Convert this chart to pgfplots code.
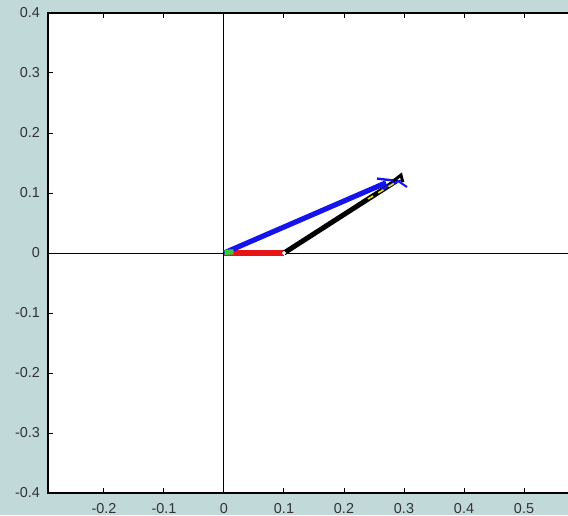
\documentclass[border=0pt]{standalone}
\usepackage{fontspec}
\setmainfont{Liberation Sans}
\usepackage{pgfplots}
\pgfplotsset{compat=1.18}
\usetikzlibrary{arrows.meta}
\definecolor{bgc}{RGB}{193,217,217}
\definecolor{vblue}{RGB}{20,20,235}
\definecolor{vred}{RGB}{230,20,20}
\definecolor{vgreen}{RGB}{60,200,60}
\begin{document}
\begin{tikzpicture}
\fill[bgc] (-112pt,-131pt) rectangle (172pt,126.5pt);
\begin{axis}[
  anchor=origin, at={(0,0)},
  x=300pt, y=300pt,
  xmin=-0.2933, xmax=0.6, ymin=-0.4, ymax=0.4,
  axis background/.style={fill=white},
  xtick={-0.2,-0.1,0,0.1,0.2,0.3,0.4,0.5},
  ytick={-0.4,-0.3,-0.2,-0.1,0,0.1,0.2,0.3,0.4},
  xticklabels={-0.2,-0.1,0,0.1,0.2,0.3,0.4,0.5},
  yticklabels={-0.4,-0.3,-0.2,-0.1,0,0.1,0.2,0.3,0.4},
  tick align=inside, major tick length=2.5pt,
  tick style={black, line width=0.5pt},
  axis line style={black, line width=0.6pt},
  ticklabel style={font=\fontsize{7.2}{8}\selectfont, text=black!80},
  xticklabel style={yshift=-1.5pt},
  yticklabel style={xshift=-0.5pt},
  clip=false,
]
\addplot[black, line width=0.5pt, forget plot] coordinates {(0,-0.4) (0,0.4)};
\addplot[black, line width=0.5pt, forget plot] coordinates {(-0.2933,0) (0.6,0)};
\addplot[vred, line width=3pt] coordinates {(0,0) (0.1,0)};
\addplot[black, line width=2.5pt] coordinates {(0.1,0) (0.287,0.12)};
\addplot[vblue, line width=2.6pt] coordinates {(0,0) (0.27,0.117)};
\addplot[vblue, line width=1.2pt] coordinates {(0.255,0.124) (0.29,0.12) (0.262,0.105)};
\addplot[vblue, line width=1pt] coordinates {(0.29,0.12) (0.305,0.11)};
\addplot[yellow!90!black, line width=0.8pt, dashed] coordinates {(0.24,0.09) (0.29,0.12)};
\addplot[black, line width=1.5pt] coordinates {(0.282,0.12) (0.295,0.13) (0.298,0.118)};
\addplot[vgreen, line width=2.6pt] coordinates {(0.001,0.001) (0.016,0.002)};
\addplot[only marks, mark=*, mark size=0.8pt, white, forget plot] coordinates {(0.1,0)};
\end{axis}
\pgfresetboundingbox
\useasboundingbox (-112pt,-131pt) rectangle (172pt,126.5pt);
\end{tikzpicture}
\end{document}
